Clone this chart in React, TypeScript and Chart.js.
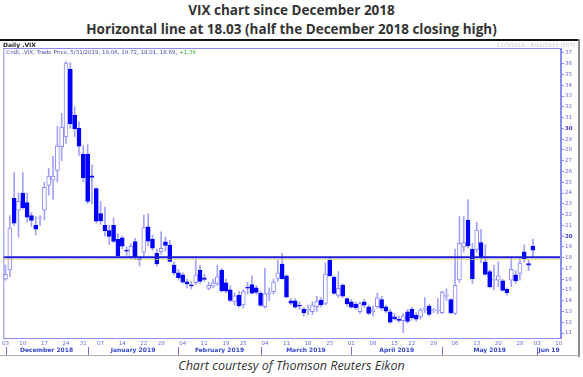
import React, { useEffect, useRef } from 'react';
import { Chart, registerables } from 'chart.js';
Chart.register(...registerables);

// ---- categories (trading days) ----
const decDays = ['12/03','12/04','12/06','12/07','12/10','12/11','12/12','12/13','12/14','12/17','12/18','12/19','12/20','12/21','12/24','12/26','12/27','12/28','12/31'];
const janDays = ['01/02','01/03','01/04','01/07','01/08','01/09','01/10','01/11','01/14','01/15','01/16','01/17','01/18','01/22','01/23','01/24','01/25','01/28','01/29','01/30','01/31'];
const febDays = ['02/01','02/04','02/05','02/06','02/07','02/08','02/11','02/12','02/13','02/14','02/15','02/19','02/20','02/21','02/22','02/25','02/26','02/27','02/28'];
const marDays = ['03/01','03/04','03/05','03/06','03/07','03/08','03/11','03/12','03/13','03/14','03/15','03/18','03/19','03/20','03/21','03/22','03/25','03/26','03/27','03/28','03/29'];
const aprDays = ['04/01','04/02','04/03','04/04','04/05','04/08','04/09','04/10','04/11','04/12','04/15','04/16','04/17','04/18','04/22','04/23','04/24','04/25','04/26','04/29','04/30'];
const mayDays = ['05/01','05/02','05/03','05/06','05/07','05/08','05/09','05/10','05/13','05/14','05/15','05/16','05/17','05/20','05/21','05/22','05/23','05/24','05/28','05/29','05/30','05/31'];
const junDays = ['06/03','06/04','06/05','06/06','06/07','06/10'];
const categories = [...decDays, ...janDays, ...febDays, ...marDays, ...aprDays, ...mayDays, ...junDays];

// ---- OHLC values ----
const opens = [
  16.0, 16.85, 23.5, 22.4, 24.0, 23.1, 21.9, 21.0, 21.6, 22.4, 24.7, 25.2, 26.1, 28.3, 29.2, 35.5, 31.2, 30.0, 27.6,
  27.6, 25.6, 24.4, 22.1, 21.0, 20.5, 21.0, 19.7, 19.84, 18.7, 18.1, 19.5, 17.9, 18.5, 20.86, 19.7, 18.4, 18.55, 19.47, 19.16, 17.3,
  16.6, 16.4, 15.76, 15.45, 15.67, 16.85, 16.13, 15.15, 15.36, 15.6, 16.84, 15.67, 15.0, 13.9, 14.5, 13.6, 15.25, 15.5, 15.2,
  14.68, 13.44, 14.6, 14.83, 16.07, 17.4, 16.3, 14.0, 14.0, 13.6, 13.2, 13.1, 12.98, 13.44, 14.06, 13.75, 17.77, 16.2, 14.5, 15.45, 14.2,
  13.9, 13.7, 12.98, 13.9, 13.44, 12.95, 13.44, 14.1, 13.44, 12.98, 12.5, 12.27, 12.14, 12.98, 13.2, 12.67, 12.5, 13.2, 13.5, 13.07, 13.05,
  12.9, 14.4, 14.1, 12.83, 15.92, 19.0, 21.48, 18.76, 18.76, 19.4, 17.6, 16.7, 15.9, 15.9, 15.85, 15.05, 15.9, 16.4, 16.54, 18.54, 17.45, 19.06,
];
const highs = [
  17.3, 21.9, 25.9, 24.0, 25.9, 24.0, 22.2, 21.8, 21.9, 25.0, 26.3, 27.4, 30.2, 31.4, 36.2, 36.1, 32.0, 30.6, 28.4,
  28.5, 26.6, 24.5, 23.2, 22.7, 21.0, 21.7, 20.2, 20.0, 19.0, 19.3, 19.8, 18.1, 21.95, 22.1, 20.1, 18.8, 20.4, 19.9, 19.6, 17.6,
  16.9, 16.6, 16.0, 15.8, 17.9, 17.3, 16.5, 15.7, 16.0, 17.3, 17.0, 16.0, 15.4, 14.7, 14.9, 15.0, 15.7, 16.3, 15.4,
  14.9, 17.0, 15.2, 16.0, 17.8, 18.4, 16.4, 14.2, 14.2, 13.9, 13.4, 13.6, 13.9, 14.4, 14.3, 17.5, 18.0, 16.3, 16.7, 15.6, 14.3,
  14.1, 13.9, 13.9, 14.1, 13.6, 13.5, 14.7, 14.4, 13.6, 13.2, 12.8, 12.6, 12.8, 13.2, 13.4, 12.9, 13.3, 14.3, 13.7, 13.3, 14.2,
  14.9, 15.1, 14.2, 18.8, 21.8, 21.8, 23.4, 19.35, 21.3, 20.6, 19.2, 16.9, 17.3, 17.6, 16.0, 15.2, 18.0, 16.8, 18.0, 19.2, 17.8, 19.72,
];
const lows = [
  15.9, 16.2, 21.0, 19.9, 22.5, 21.3, 20.9, 20.1, 21.0, 21.5, 23.8, 23.4, 25.0, 27.0, 28.6, 30.0, 29.2, 27.5, 25.0,
  23.0, 23.0, 21.2, 21.1, 20.0, 19.2, 19.4, 18.0, 18.8, 18.2, 17.9, 17.8, 17.2, 18.0, 19.1, 18.7, 17.2, 18.3, 18.6, 17.6, 16.4,
  15.9, 15.6, 15.2, 15.1, 15.5, 15.6, 15.8, 15.0, 15.2, 15.4, 14.8, 14.7, 13.9, 13.6, 13.4, 13.3, 14.6, 14.6, 14.6,
  13.5, 13.3, 14.0, 14.6, 15.8, 16.0, 14.3, 13.6, 13.3, 13.2, 12.6, 12.7, 12.7, 13.0, 13.4, 13.6, 16.2, 14.6, 14.3, 14.3, 13.5,
  13.3, 13.2, 12.8, 13.4, 12.7, 12.6, 13.3, 13.1, 12.9, 11.9, 12.2, 12.0, 11.03, 11.9, 12.2, 12.1, 12.3, 12.9, 12.6, 12.9, 12.8,
  12.8, 14.0, 12.8, 12.7, 15.7, 18.5, 18.9, 15.6, 18.5, 17.5, 16.4, 15.2, 15.0, 15.3, 14.9, 14.5, 15.3, 15.6, 15.9, 17.6, 16.8, 18.01,
];
const closes = [
  16.44, 20.74, 21.19, 23.23, 22.64, 21.76, 21.46, 20.65, 21.63, 24.52, 25.58, 25.58, 28.38, 30.11, 36.07, 30.41, 29.96, 28.34, 25.42,
  23.22, 25.45, 21.38, 21.40, 20.47, 19.98, 19.50, 18.19, 19.07, 18.60, 19.04, 18.06, 17.80, 20.80, 19.52, 18.89, 17.42, 18.87, 19.13, 17.66, 16.57,
  16.14, 15.73, 15.57, 15.38, 16.37, 15.80, 15.97, 15.43, 15.65, 16.22, 14.91, 14.88, 14.02, 14.46, 13.51, 14.85, 15.17, 14.70, 14.78,
  13.57, 14.63, 14.74, 15.74, 16.59, 16.05, 14.33, 13.77, 13.41, 13.50, 12.88, 13.10, 13.56, 13.91, 13.63, 16.48, 16.33, 14.68, 15.15, 14.43, 13.71,
  13.40, 13.36, 13.74, 13.58, 12.82, 13.18, 14.28, 13.30, 13.02, 12.01, 12.32, 12.18, 12.60, 12.09, 12.42, 12.28, 13.14, 13.25, 12.73, 13.11, 13.12,
  14.80, 14.42, 12.87, 15.44, 19.32, 19.40, 19.10, 16.04, 20.55, 18.06, 16.44, 15.29, 15.96, 16.31, 14.95, 14.75, 16.92, 15.85, 17.50, 17.90, 17.30, 18.69,
];

// ---- reference lines, ticks, labels ----
const halfHigh = 18.03;
const lastPriceLine = 17.88;
const yMin = 10.54;
const yMax = 37.46;
const yTicks = [11,12,13,14,15,16,17,18,19,20,21,22,23,24,25,26,27,28,29,30,31,32,33,34,35,36,37];
const xTickDays = ['12/03','12/10','12/17','12/24','12/31','01/07','01/14','01/22','01/28','02/04','02/11','02/19','02/25','03/04','03/11','03/18','03/25','04/01','04/08','04/15','04/22','04/29','05/06','05/13','05/20','05/28','06/03','06/10'];
const monthNames = ['December 2018','January 2019','February 2019','March 2019','April 2019','May 2019','Jun 19'];
const monthStarts = ['12/03','01/02','02/01','03/01','04/01','05/01','06/03'];

const titleLine1 = 'VIX chart since December 2018';
const titleLine2 = 'Horizontal line at 18.03 (half the December 2018 closing high)';
const caption = 'Chart courtesy of Thomson Reuters Eikon';
const panelTitle = 'Daily .VIX';
const legendText = 'Cndl, .VIX, Trade Price, 5/31/2019, 19.06, 19.72, 18.01, 18.69, ';
const legendChange = '+1.39';
const rangeText = '12/3/2018 - 6/10/2019 (EST)';

const BLUE = '#0000ff';
const HOLLOW = '#8888ff';
const WICK = '#a3a3ff';
const AXIS = '#8a8af2';
const LABEL = '#6a6ae0';

const decor = {
  id: 'decor',
  beforeDraw(chart: any) {
    const { ctx, chartArea, width } = chart;
    ctx.save();
    ctx.fillStyle = '#ffffff';
    ctx.fillRect(0, 0, width, chart.height);
    // top black bar
    ctx.fillStyle = '#111';
    ctx.fillRect(0, 2, 578, 2);
    // right frame
    ctx.fillStyle = '#8a8a8a';
    ctx.fillRect(578, 2, 2, chart.height - 2);
    // bottom frame
    ctx.fillStyle = '#b0b0b0';
    ctx.fillRect(0, chart.height - 2, 580, 1);
    // panel title
    ctx.fillStyle = '#222';
    ctx.font = 'bold 6px "DejaVu Sans"';
    ctx.textBaseline = 'middle';
    ctx.textAlign = 'left';
    ctx.fillText(panelTitle, 3, 8.5);
    ctx.fillStyle = '#c8c8c8';
    ctx.font = '5.5px "DejaVu Sans"';
    ctx.textAlign = 'right';
    ctx.fillText(rangeText, 575, 8.5);
    ctx.restore();
  },
  afterDatasetsDraw(chart: any) {
    const { ctx, chartArea, scales } = chart;
    const y = scales.y;
    const x = scales.x;
    ctx.save();
    // yellow last-price line
    const yy = Math.round(y.getPixelForValue(lastPriceLine)) + 0.5;
    ctx.strokeStyle = '#e6d85a';
    ctx.lineWidth = 1;
    ctx.setLineDash([2, 1]);
    ctx.beginPath();
    ctx.moveTo(chartArea.left, yy);
    ctx.lineTo(chartArea.right, yy);
    ctx.stroke();
    ctx.setLineDash([]);
    // horizontal line at half December high
    const hy = y.getPixelForValue(halfHigh);
    ctx.strokeStyle = '#1c1cd6';
    ctx.lineWidth = 2;
    ctx.beginPath();
    ctx.moveTo(chartArea.left, hy);
    ctx.lineTo(chartArea.right, hy);
    ctx.stroke();
    // plot border
    ctx.strokeStyle = AXIS;
    ctx.lineWidth = 1;
    ctx.strokeRect(chartArea.left + 0.5, chartArea.top + 0.5, chartArea.right - chartArea.left - 1, chartArea.bottom - chartArea.top);
    // legend
    ctx.font = '5.5px "DejaVu Sans"';
    ctx.textBaseline = 'middle';
    ctx.textAlign = 'left';
    ctx.fillStyle = '#4a4aa8';
    ctx.fillText(legendText, chartArea.left + 3, chartArea.top + 4.5);
    const w = ctx.measureText(legendText).width;
    ctx.fillStyle = '#2eaa2e';
    ctx.fillText(legendChange, chartArea.left + 3 + w, chartArea.top + 4.5);
    // month separators and labels
    const seps = monthStarts.map((d) => x.getPixelForValue(categories.indexOf(d)));
    ctx.strokeStyle = '#7070e0';
    ctx.lineWidth = 1;
    seps.forEach((sx: number) => {
      const px = Math.round(sx) + 0.5;
      ctx.beginPath();
      ctx.moveTo(px, chartArea.bottom + 9);
      ctx.lineTo(px, chartArea.bottom + 17);
      ctx.stroke();
    });
    ctx.font = 'bold 6px "DejaVu Sans"';
    ctx.fillStyle = '#3344cc';
    ctx.textAlign = 'center';
    monthNames.forEach((m, i) => {
      const a = seps[i];
      const b = i + 1 < seps.length ? seps[i + 1] : chartArea.right;
      ctx.fillText(m, (a + b) / 2, chartArea.bottom + 12);
    });
    ctx.restore();
  },
};

export default function App() {
  const ref = useRef<HTMLCanvasElement>(null);
  useEffect(() => {
    const n = closes.length;
    const wickData = categories.map((_, i) => (i < n ? [lows[i], highs[i]] : null));
    const bodyData = categories.map((_, i) => (i < n ? [opens[i], closes[i]] : null));
    const up = categories.map((_, i) => i < n && closes[i] >= opens[i]);
    const chart = new Chart(ref.current as HTMLCanvasElement, {
      type: 'bar',
      data: {
        labels: categories,
        datasets: [
          {
            data: wickData as any,
            backgroundColor: WICK,
            borderWidth: 0,
            barThickness: 1,
            grouped: false,
            order: 2,
          } as any,
          {
            data: bodyData as any,
            backgroundColor: up.map((u) => (u ? '#ffffff' : BLUE)),
            borderColor: up.map((u) => (u ? HOLLOW : BLUE)),
            borderWidth: 1,
            borderSkipped: false,
            barThickness: 4,
            minBarLength: 1,
            grouped: false,
            order: 1,
          } as any,
        ],
      },
      options: {
        animation: false,
        responsive: false,
        maintainAspectRatio: false,
        layout: { padding: { left: 3, top: 11, right: 0, bottom: 0 } },
        plugins: { legend: { display: false }, tooltip: { enabled: false }, title: { display: false } },
        scales: {
          x: {
            type: 'category',
            offset: true,
            grid: { display: false, drawTicks: false },
            border: { display: false },
            ticks: {
              autoSkip: false,
              maxRotation: 0,
              minRotation: 0,
              padding: 2,
              color: LABEL,
              font: { family: 'DejaVu Sans', size: 5.5 },
              callback: (_v: any, i: number) => (xTickDays.includes(categories[i]) ? categories[i].slice(3) : ''),
            },
            afterFit: (s: any) => { s.height = 19; },
          },
          y: {
            position: 'right',
            min: yMin,
            max: yMax,
            grid: { drawOnChartArea: false, drawTicks: true, tickLength: 3, color: AXIS },
            border: { display: true, color: AXIS },
            ticks: {
              padding: 1,
              color: (c: any) => (c.tick && c.tick.value % 10 === 0 ? '#3a3ad0' : LABEL),
              font: (c: any) => ({ family: 'DejaVu Sans', size: 5.5, weight: c.tick && c.tick.value % 10 === 0 ? 'bold' : 'normal' }),
            },
            afterBuildTicks: (ax: any) => { ax.ticks = yTicks.map((v) => ({ value: v })); },
            afterFit: (s: any) => { s.width = 22; },
          },
        },
      } as any,
      plugins: [decor],
    });
    return () => chart.destroy();
  }, []);

  return (
    <div style={{ position: 'absolute', left: 0, top: 0, width: 583, height: 377, background: '#fff', overflow: 'hidden' }}>
      <div style={{ position: 'absolute', left: 0, width: 583, top: 0, textAlign: 'center', fontFamily: '"Open Sans", sans-serif', fontWeight: 700, fontSize: 13.5, color: '#333', lineHeight: '20px' }}>
        {titleLine1}
      </div>
      <div style={{ position: 'absolute', left: 0, width: 583, top: 19, textAlign: 'center', fontFamily: '"Open Sans", sans-serif', fontWeight: 700, fontSize: 13.5, color: '#333', lineHeight: '20px' }}>
        {titleLine2}
      </div>
      <canvas ref={ref} width={583} height={320} style={{ position: 'absolute', left: 0, top: 37, width: 583, height: 320 }} />
      <div style={{ position: 'absolute', left: 0, width: 583, top: 357, textAlign: 'center', fontFamily: '"Open Sans", sans-serif', fontStyle: 'italic', fontSize: 12.5, color: '#333', lineHeight: '18px' }}>
        {caption}
      </div>
    </div>
  );
}
